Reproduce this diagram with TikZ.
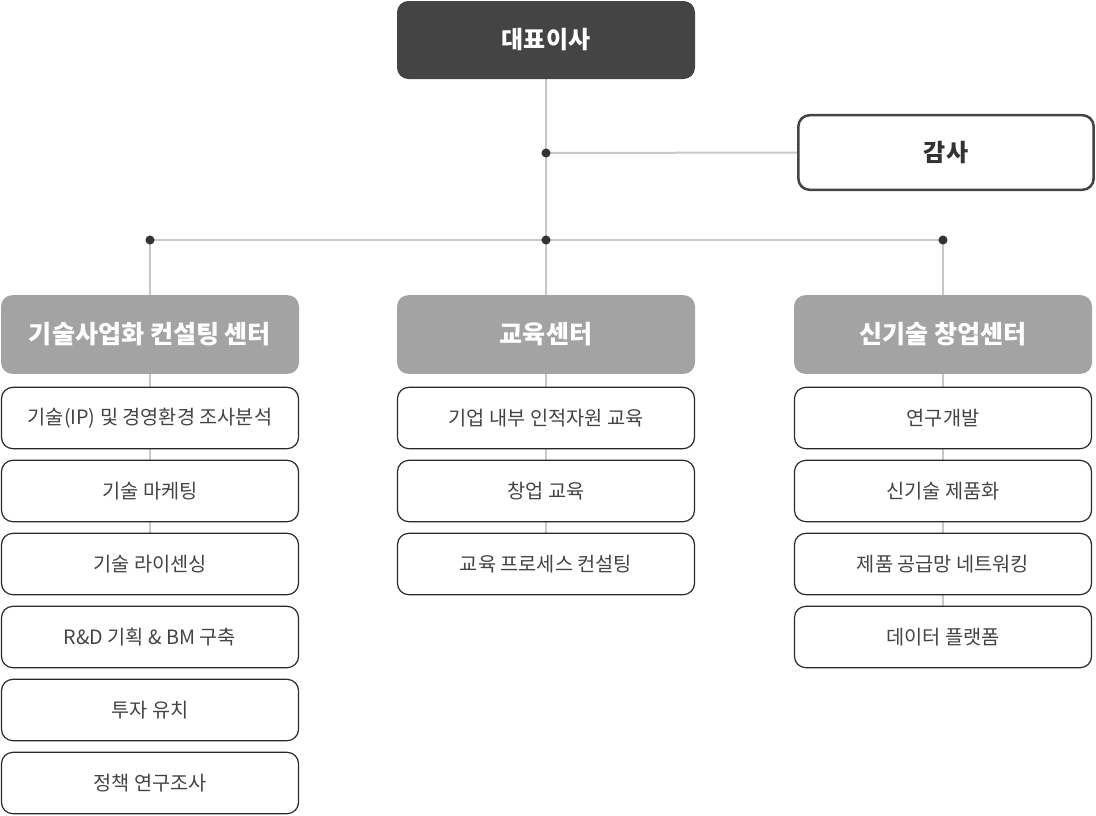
\documentclass[tikz,border=0pt]{standalone}
\usepackage{fontspec}
\setmainfont{Noto Sans CJK KR}
\usetikzlibrary{backgrounds}
\definecolor{cdark}{HTML}{444444}
\definecolor{chead}{HTML}{A3A3A3}
\definecolor{cline}{HTML}{C8C8C8}
\definecolor{cdot}{HTML}{333333}
\definecolor{ctext}{HTML}{444444}
\definecolor{cborder}{HTML}{2A2A2A}
\tikzset{
  topbox/.style={fill=cdark, rounded corners=8.5pt, text=white, font=\fontsize{18pt}{21pt}\selectfont\bfseries, minimum width=223.5pt, minimum height=58.5pt, inner sep=0pt},
  auditbox/.style={draw=cdark, line width=1.9pt, fill=white, rounded corners=8.5pt, text=cdot, font=\fontsize{18pt}{21pt}\selectfont\bfseries, minimum width=221.5pt, minimum height=56pt, inner sep=0pt},
  headbox/.style={fill=chead, rounded corners=8.5pt, text=white, font=\fontsize{18.8pt}{21pt}\selectfont\bfseries, minimum width=223.5pt, minimum height=59pt, inner sep=0pt},
  itembox/.style={draw=cborder, line width=0.9pt, fill=white, rounded corners=8.5pt, text=ctext, font=\fontsize{14.8pt}{17pt}\selectfont, minimum width=222.8pt, minimum height=46pt, inner sep=0pt},
  conn/.style={draw=cline, line width=1.5pt},
  jdot/.style={fill=cdot},
}
\begin{document}
\begin{tikzpicture}[x=0.75pt,y=-0.75pt]
\useasboundingbox (0,0) rectangle (1096,815);
% top
\node[topbox] (ceo) at (546,40) {대표이사};
\node[auditbox] (audit) at (946,152.5) {감사};
% heads
\node[headbox] (hl) at (150,334.5) {기술사업화 컨설팅 센터};
\node[headbox] (hm) at (546,334.5) {교육센터};
\node[headbox] (hr) at (943,334.5) {신기술 창업센터};
% left items
\node[itembox] (l1) at (150,418) {기술(IP) 및 경영환경 조사분석};
\node[itembox] (l2) at (150,491) {기술 마케팅};
\node[itembox] (l3) at (150,564) {기술 라이센싱};
\node[itembox] (l4) at (150,637) {R\&D 기획 \& BM 구축};
\node[itembox] (l5) at (150,710) {투자 유치};
\node[itembox] (l6) at (150,783) {정책 연구조사};
% middle items
\node[itembox] (m1) at (546,418) {기업 내부 인적자원 교육};
\node[itembox] (m2) at (546,491) {창업 교육};
\node[itembox] (m3) at (546,564) {교육 프로세스 컨설팅};
% right items
\node[itembox] (r1) at (943,418) {연구개발};
\node[itembox] (r2) at (943,491) {신기술 제품화};
\node[itembox] (r3) at (943,564) {제품 공급망 네트워킹};
\node[itembox] (r4) at (943,637) {데이터 플랫폼};
% junctions
\coordinate (ja) at (546,153);
\coordinate (jm) at (546,240);
\coordinate (jl) at (150,240);
\coordinate (jr) at (943,240);
\coordinate (el) at (150,533);
\coordinate (em) at (546,533);
\coordinate (er) at (943,606);
\begin{scope}[on background layer]
  \draw[conn] (ceo.south) -- (jm);
  \draw[conn] (ja) -- (audit.west);
  \draw[conn] (jl) -- (jr);
  \draw[conn] (jl) -- (el);
  \draw[conn] (jm) -- (em);
  \draw[conn] (jr) -- (er);
\end{scope}
\foreach \p in {ja,jm,jl,jr} \fill[jdot] (\p) circle (3.4pt);
\end{tikzpicture}
\end{document}
